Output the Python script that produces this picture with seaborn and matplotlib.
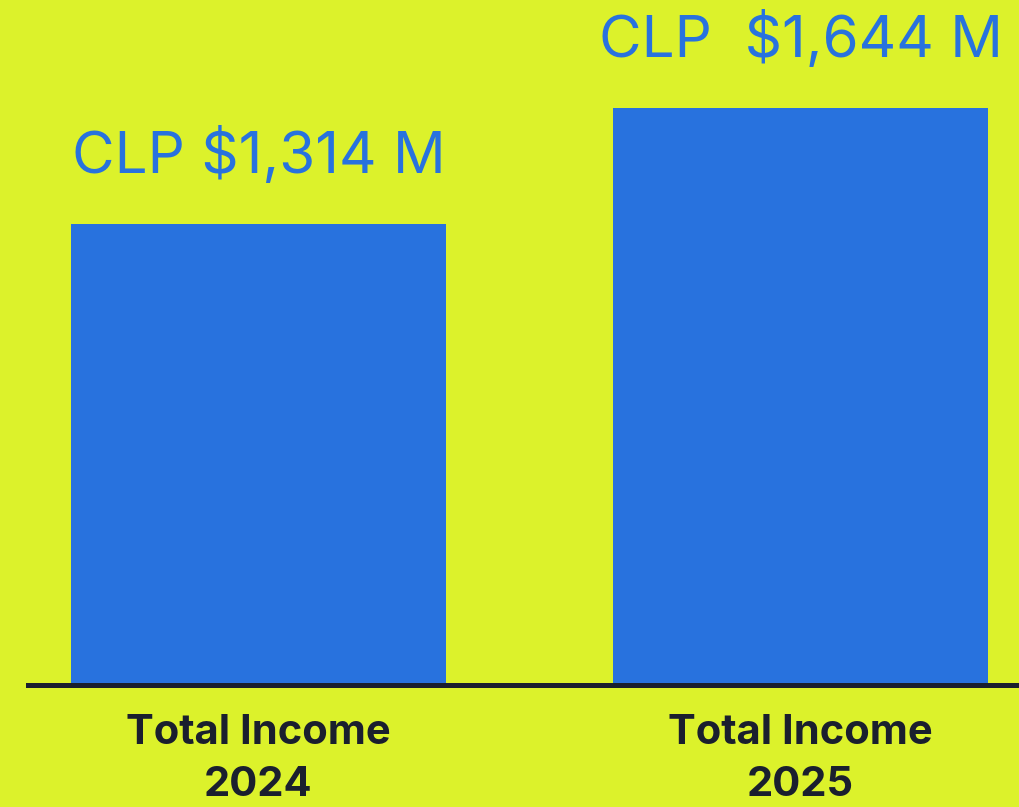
import matplotlib
matplotlib.use("Agg")
import matplotlib.pyplot as plt
import seaborn as sns
import pandas as pd

categories = ["Total Income\n2024", "Total Income\n2025"]
values = [1314, 1644]
value_labels = ["CLP $1,314 M", "CLP  $1,644 M"]

bg_color = "#DCF22B"
bar_color = "#2872DE"
dark_color = "#1A1F2E"

df = pd.DataFrame({"category": categories, "value": values})

sns.set_theme(style="white")
plt.rcParams["font.family"] = ["Inter", "DejaVu Sans"]

fig = plt.figure(figsize=(10.19, 8.07), dpi=100, facecolor=bg_color)
ax = fig.add_axes([28 / 1019, 122 / 807, 991 / 1019, 685 / 807])
ax.set_facecolor(bg_color)

sns.barplot(data=df, x="category", y="value", color=bar_color, width=0.692,
            saturation=1, linewidth=0, ax=ax)

ax.set_xlim(-0.4253, 1.403)
ax.set_ylim(0, 1644 * 685 / 577)

for i, (v, lab) in enumerate(zip(values, value_labels)):
    ax.annotate(lab, (i, v), xytext=(0, 28), textcoords="offset points",
                ha="center", va="bottom", fontsize=42, color=bar_color,
                fontweight="normal")

for side in ["top", "right", "left"]:
    ax.spines[side].set_visible(False)
ax.spines["bottom"].set_color(dark_color)
ax.spines["bottom"].set_linewidth(3.6)

ax.set_yticks([])
ax.set_xlabel("")
ax.set_ylabel("")
ax.tick_params(axis="x", length=0, pad=21)
for t in ax.get_xticklabels():
    t.set_fontsize(30)
    t.set_fontweight("bold")
    t.set_color(dark_color)
    t.set_linespacing(1.45)

fig.savefig("out.png", dpi=100, facecolor=bg_color)
